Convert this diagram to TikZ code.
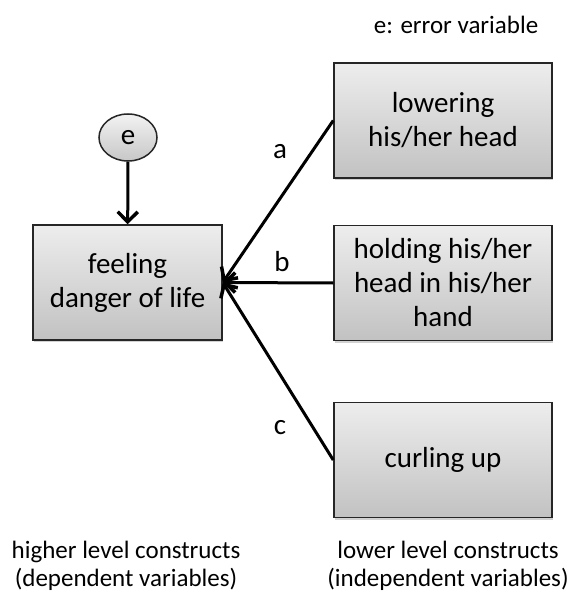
\documentclass[tikz,border=0pt]{standalone}
\usepackage{fontspec}
\setmainfont{Carlito}
\usetikzlibrary{arrows.meta,shapes.geometric,shadows}
\tikzset{
  conbox/.style={draw=black!85, line width=1.5bp, minimum width=189bp, minimum height=115bp,
    top color=black!7, bottom color=black!24, align=center, inner sep=0pt,
    font=\fontsize{29bp}{34bp}\selectfont,
    drop shadow={shadow xshift=1bp, shadow yshift=-2bp, fill=black!35, opacity=0.5}},
  rbox/.style={conbox, minimum width=218bp},
  errnode/.style={shape=ellipse, draw=black!85, line width=1.5bp,
    inner sep=2bp, minimum width=58bp, minimum height=47bp,
    top color=black!5, bottom color=black!22, font=\fontsize{29bp}{34bp}\selectfont},
  link/.style={line width=3bp, -{Straight Barb[length=10bp,width=20bp,line width=3.5bp]}},
  lbl/.style={font=\fontsize{29bp}{34bp}\selectfont},
  note/.style={font=\fontsize{25bp}{28bp}\selectfont, align=center}
}
\begin{document}
\begin{tikzpicture}[x=1bp,y=-1bp]
\useasboundingbox (0,0) rectangle (568,599);
\node[conbox] (dep) at (127.5,282.5) {feeling\\danger of life};
\node[errnode] (e) at (128,137.5) {e};
\node[rbox] (low) at (443,120.5) {lowering\\his/her head};
\node[rbox] (hold) at (443,283) {holding his/her\\head in his/her\\hand};
\node[rbox] (curl) at (443,460) {curling up};
\draw[link] (e) -- (dep);
\draw[link] (low.west) -- (dep.east);
\draw[link] (hold.west) -- (dep.east);
\draw[link] (curl.west) -- (dep.east);
\node[lbl] (la) at (280,152) {a};
\node[lbl] (lb) at (282,262) {b};
\node[lbl] (lc) at (280,428) {c};
\node[note] (enote) at (456,25) {e: error variable};
\node[note] (hi) at (126,566) {higher level constructs\\(dependent variables)};
\node[note] (lo) at (448,566) {lower level constructs\\(independent variables)};
\end{tikzpicture}
\end{document}
